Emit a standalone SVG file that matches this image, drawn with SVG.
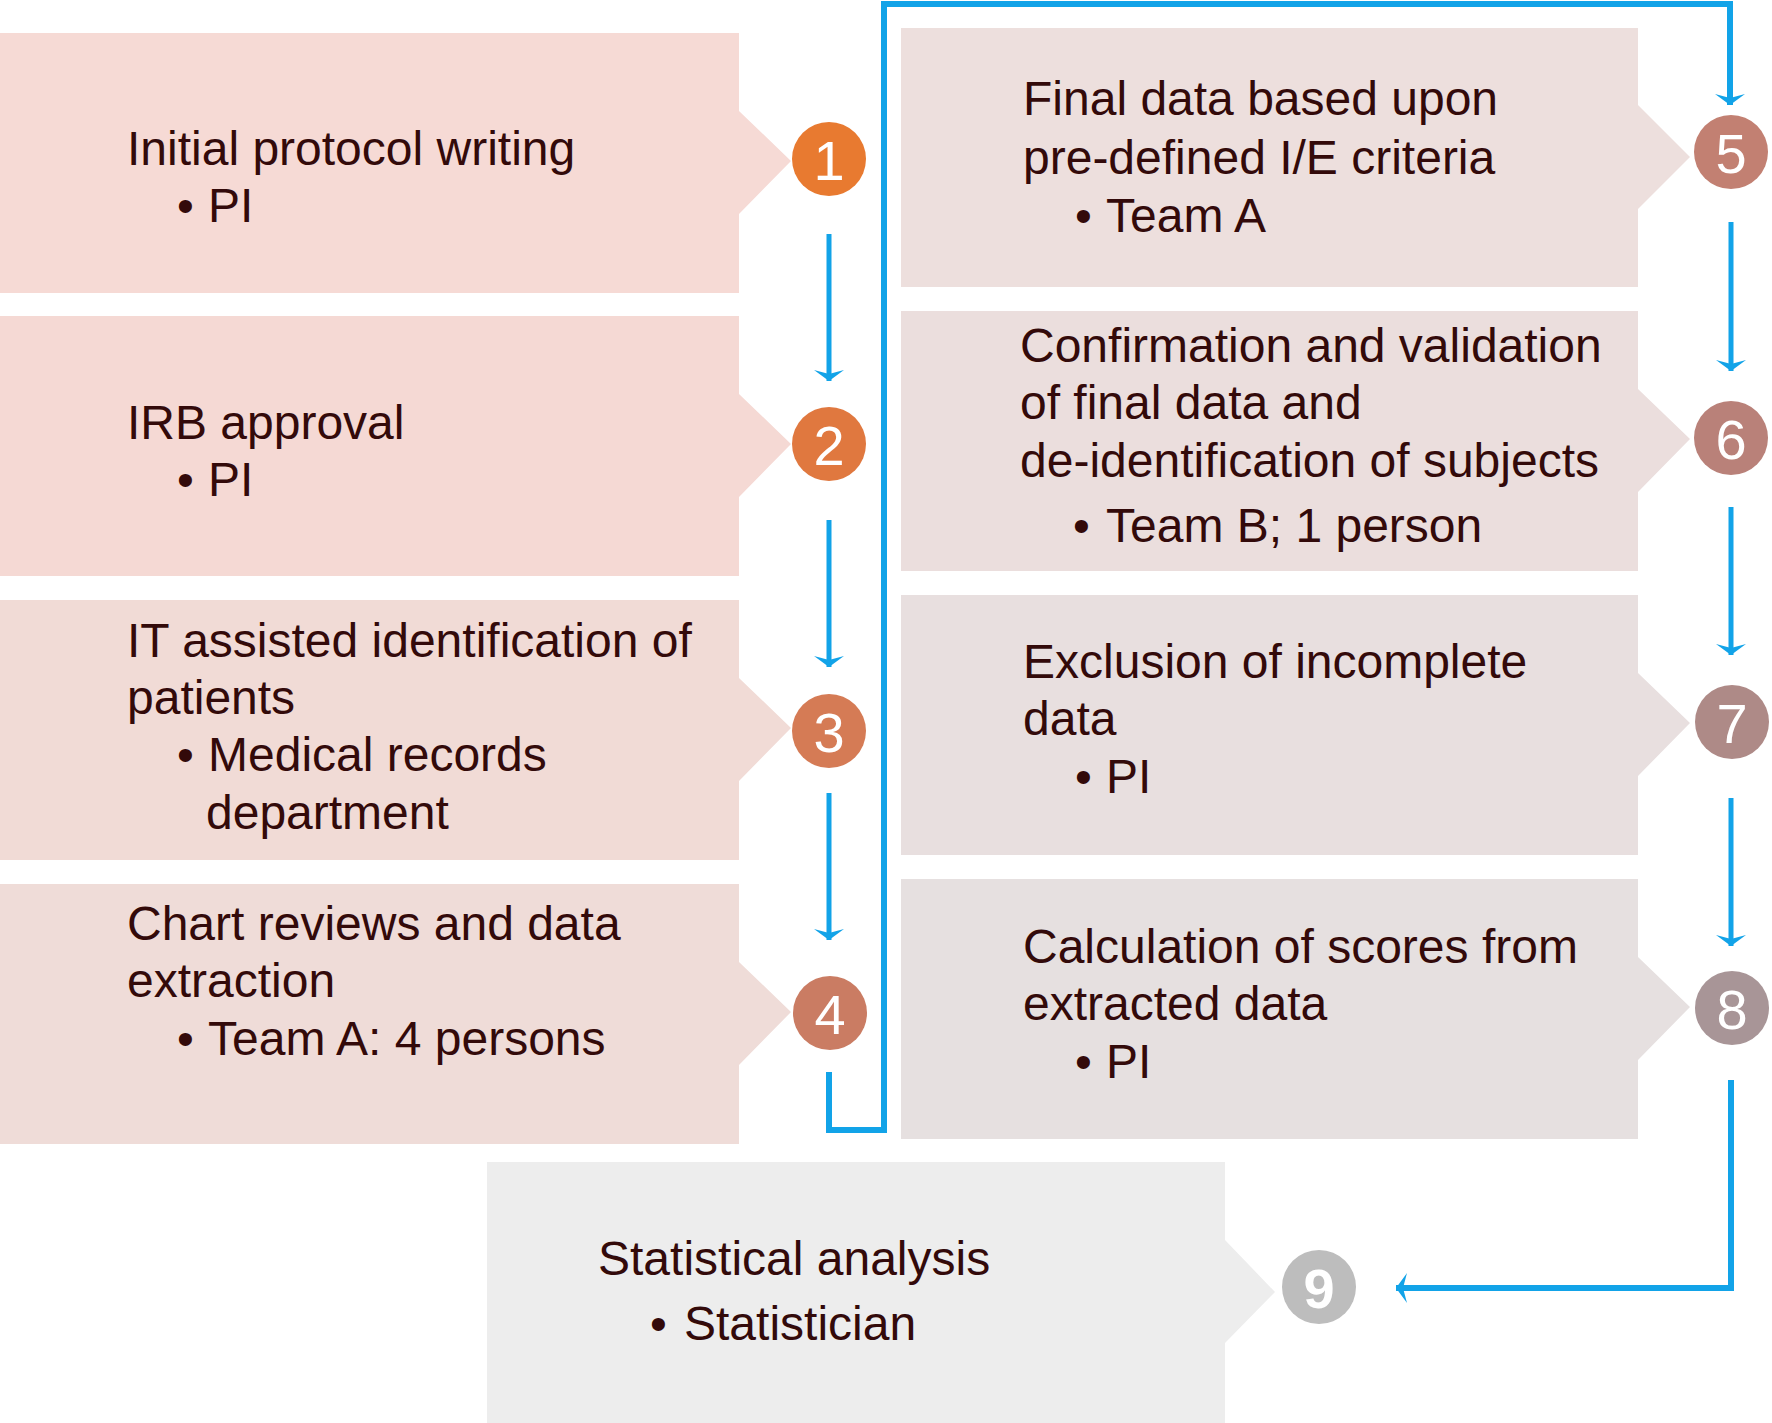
<svg xmlns="http://www.w3.org/2000/svg" width="1772" height="1423" viewBox="0 0 1772 1423">
<style>
.t{font-family:"Liberation Sans",Arial,sans-serif;font-size:48px;fill:#330a0a}
.n{font-family:"Liberation Sans",Arial,sans-serif;font-size:56px;fill:#ffffff;text-anchor:middle}
.c{fill:none;stroke:#12a3e8;stroke-width:5}
.loop{fill:none;stroke:#12a3e8;stroke-width:6}
</style>
<defs>
<marker id="ah" viewBox="0 -16 12 32" refX="11" refY="0" markerWidth="12" markerHeight="32" markerUnits="userSpaceOnUse" orient="auto">
<path d="M0,-15 L11,0 L0,15 L4,0 z" fill="#12a3e8"/>
</marker>
</defs>
<rect width="1772" height="1423" fill="#ffffff"/>
<g id="node1">
<polygon points="0,33 739,33 739,111 791,161 739,214 739,293 0,293" fill="#f6dad5"/>
<circle cx="829" cy="159" r="37" fill="#e87a30"/>
<text class="n" x="829" y="180">1</text>
<text class="t" x="127" y="165">Initial protocol writing</text>
<text class="t" x="177" y="222">•</text><text class="t" x="208" y="222">PI</text>
</g>
<g id="node2">
<polygon points="0,316 739,316 739,394 791,444 739,497 739,576 0,576" fill="#f5d9d4"/>
<circle cx="829" cy="444" r="37" fill="#e0783f"/>
<text class="n" x="829" y="465">2</text>
<text class="t" x="127" y="439">IRB approval</text>
<text class="t" x="177" y="496">•</text><text class="t" x="208" y="496">PI</text>
</g>
<g id="node3">
<polygon points="0,600 739,600 739,678 791,728 739,781 739,860 0,860" fill="#f1dbd6"/>
<circle cx="829" cy="731" r="37" fill="#d57b55"/>
<text class="n" x="829" y="752">3</text>
<text class="t" x="127" y="657">IT assisted identification of</text>
<text class="t" x="127" y="714">patients</text>
<text class="t" x="177" y="771">•</text><text class="t" x="208" y="771">Medical records</text>
<text class="t" x="206" y="829">department</text>
</g>
<g id="node4">
<polygon points="0,884 739,884 739,962 791,1012 739,1065 739,1144 0,1144" fill="#efdcd8"/>
<circle cx="830" cy="1013" r="37" fill="#ca7c63"/>
<text class="n" x="830" y="1034">4</text>
<text class="t" x="127" y="940">Chart reviews and data</text>
<text class="t" x="127" y="997">extraction</text>
<text class="t" x="177" y="1055">•</text><text class="t" x="208" y="1055">Team A: 4 persons</text>
</g>
<g id="node5">
<polygon points="901,28 1638,28 1638,105 1690,157 1638,209 1638,287 901,287" fill="#eddfdd"/>
<circle cx="1731" cy="152" r="37" fill="#c28072"/>
<text class="n" x="1731" y="173">5</text>
<text class="t" x="1023" y="115">Final data based upon</text>
<text class="t" x="1023" y="174">pre-defined I/E criteria</text>
<text class="t" x="1075" y="232">•</text><text class="t" x="1106" y="232">Team A</text>
</g>
<g id="node6">
<polygon points="901,311 1638,311 1638,389 1690,439 1638,492 1638,571 901,571" fill="#ebdedd"/>
<circle cx="1731" cy="438" r="37" fill="#b98179"/>
<text class="n" x="1731" y="459">6</text>
<text class="t" x="1020" y="362">Confirmation and validation</text>
<text class="t" x="1020" y="419">of final data and</text>
<text class="t" x="1020" y="477">de-identification of subjects</text>
<text class="t" x="1073" y="542">•</text><text class="t" x="1106" y="542">Team B; 1 person</text>
</g>
<g id="node7">
<polygon points="901,595 1638,595 1638,673 1690,723 1638,776 1638,855 901,855" fill="#e8dfdf"/>
<circle cx="1732" cy="722" r="37" fill="#ae8a87"/>
<text class="n" x="1732" y="743">7</text>
<text class="t" x="1023" y="678">Exclusion of incomplete</text>
<text class="t" x="1023" y="735">data</text>
<text class="t" x="1075" y="793">•</text><text class="t" x="1106" y="793">PI</text>
</g>
<g id="node8">
<polygon points="901,879 1638,879 1638,957 1690,1007 1638,1060 1638,1139 901,1139" fill="#e6e0e0"/>
<circle cx="1732" cy="1008" r="37" fill="#a89597"/>
<text class="n" x="1732" y="1029">8</text>
<text class="t" x="1023" y="963">Calculation of scores from</text>
<text class="t" x="1023" y="1020">extracted data</text>
<text class="t" x="1075" y="1078">•</text><text class="t" x="1106" y="1078">PI</text>
</g>
<g id="node9">
<polygon points="487,1162 1225,1162 1225,1240 1275,1292 1225,1343 1225,1423 487,1423" fill="#ededed"/>
<circle cx="1319" cy="1287" r="37" fill="#bdbdbd"/>
<text class="n" x="1319" y="1308" font-weight="bold">9</text>
<text class="t" x="598" y="1275">Statistical analysis</text>
<text class="t" x="650" y="1340">•</text><text class="t" x="684" y="1340">Statistician</text>
</g>
<g id="connectors">
<line class="c" x1="829" y1="234" x2="829" y2="381" marker-end="url(#ah)"/>
<line class="c" x1="829" y1="520" x2="829" y2="667" marker-end="url(#ah)"/>
<line class="c" x1="829" y1="793" x2="829" y2="940" marker-end="url(#ah)"/>
<polyline class="loop" points="829,1072 829,1130 884,1130 884,4 1730,4 1730,105" marker-end="url(#ah)"/>
<line class="c" x1="1731" y1="222" x2="1731" y2="371" marker-end="url(#ah)"/>
<line class="c" x1="1731" y1="507" x2="1731" y2="655" marker-end="url(#ah)"/>
<line class="c" x1="1731" y1="798" x2="1731" y2="946" marker-end="url(#ah)"/>
<polyline class="loop" points="1731,1080 1731,1288 1396,1288" marker-end="url(#ah)"/>
</g>
</svg>
